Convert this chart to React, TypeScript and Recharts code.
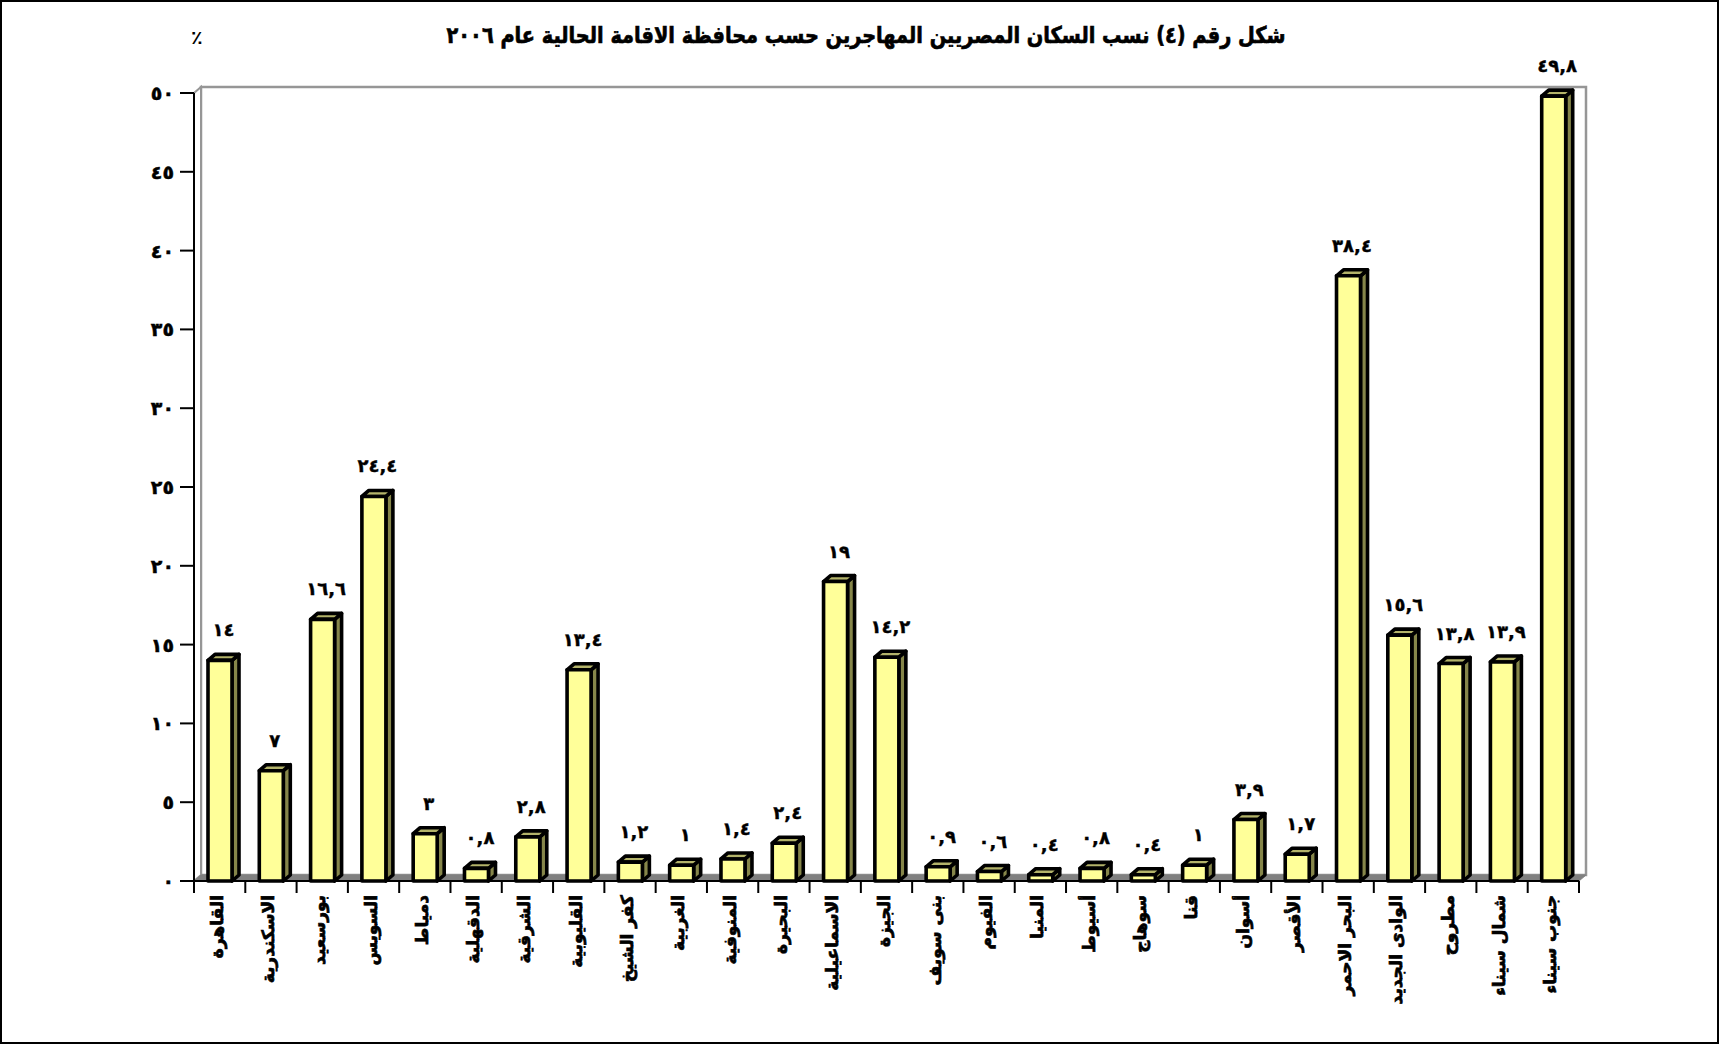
import React from 'react';
import { BarChart, Bar, XAxis, YAxis, LabelList, ReferenceArea } from 'recharts';

const categories = [
  'القاهرة',
  'الاسكندرية',
  'بورسعيد',
  'السويس',
  'دمياط',
  'الدقهلية',
  'الشرقية',
  'القليوبية',
  'كفر الشيخ',
  'الغربية',
  'المنوفية',
  'البحيرة',
  'الاسماعيلية',
  'الجيزة',
  'بنى سويف',
  'الفيوم',
  'المنيا',
  'أسيوط',
  'سوهاج',
  'قنا',
  'أسوان',
  'الأقصر',
  'البحر الاحمر',
  'الوادى الجديد',
  'مطروح',
  'شمال سيناء',
  'جنوب سيناء',
];

const values = [
  14, 7, 16.6, 24.4, 3, 0.8, 2.8, 13.4, 1.2, 1, 1.4, 2.4, 19, 14.2, 0.9, 0.6,
  0.4, 0.8, 0.4, 1, 3.9, 1.7, 38.4, 15.6, 13.8, 13.9, 49.8,
];

const yTicks = [0, 5, 10, 15, 20, 25, 30, 35, 40, 45, 50];

const titleText =
  'شكل رقم (٤) نسب السكان المصريين المهاجرين حسب محافظة الاقامة الحالية عام ٢٠٠٦';
const unitText = '٪';

const data = categories.map((name, i) => ({ name, value: values[i] }));

const AR_DIGITS = '٠١٢٣٤٥٦٧٨٩';
const toArabic = (n: number) =>
  String(n)
    .replace(/[0-9]/g, (d) => AR_DIGITS[Number(d)])
    .replace('.', ',');

const FONT = '"DejaVu Sans", sans-serif';
const DX = 7;
const DY = 6;

const Bar3D = (props: any) => {
  const { x, y, width, height } = props;
  if (x == null || y == null || width == null || height == null) return null;
  const x0 = x;
  const x1 = x + width;
  const y0 = y;
  const y1 = y + height;
  return (
    <g stroke="#000" strokeWidth={3.6} strokeLinejoin="round">
      <polygon
        points={`${x1},${y0} ${x1 + DX},${y0 - DY} ${x1 + DX},${y1 - DY} ${x1},${y1}`}
        fill="#86864a"
      />
      <polygon
        points={`${x0},${y0} ${x0 + DX},${y0 - DY} ${x1 + DX},${y0 - DY} ${x1},${y0}`}
        fill="#b3b36a"
      />
      <rect x={x0} y={y0} width={width} height={height} fill="#FFFF99" />
    </g>
  );
};

const Walls = (props: any) => {
  const { x, y, width, height } = props;
  if (x == null) return null;
  const r = x + width;
  const b = y + height;
  return (
    <g>
      <polygon
        points={`${x + DX},${y - DY} ${r + DX},${y - DY} ${r + DX},${b - DY} ${x + DX},${b - DY}`}
        fill="#fff"
        stroke="#969696"
        strokeWidth={2.5}
      />
      <polygon
        points={`${x},${y} ${x + DX},${y - DY} ${x + DX},${b - DY} ${x},${b}`}
        fill="#fff"
        stroke="#969696"
        strokeWidth={2}
      />
      <polygon
        points={`${x},${b} ${x + DX},${b - DY} ${r + DX},${b - DY} ${r},${b}`}
        fill="#808080"
        stroke="#808080"
        strokeWidth={1}
      />
    </g>
  );
};

const ValueLabel = (props: any) => {
  const { x, y, width, value } = props;
  if (x == null || y == null) return null;
  return (
    <text
      x={Number(x) + Number(width) / 2 + DX / 2}
      y={Number(y) - 24}
      textAnchor="middle"
      fontFamily={FONT}
      fontWeight="bold"
      fontSize={18}
      letterSpacing={2}
      stroke="#000"
      strokeWidth={0.4}
      fill="#000"
    >
      {toArabic(Number(value))}
    </text>
  );
};

const XTick = (props: any) => {
  const { x, y, payload, index } = props;
  const half = payload && payload.offset ? payload.offset : 25.6;
  return (
    <g>
      <line x1={x - half} y1={y} x2={x - half} y2={y + 12} stroke="#000" strokeWidth={2} />
      {index === categories.length - 1 && (
        <line x1={x + half} y1={y} x2={x + half} y2={y + 12} stroke="#000" strokeWidth={2} />
      )}
      <text
        transform={`translate(${x + 3},${y + 14}) rotate(-90)`}
        textAnchor="end"
        fontFamily={FONT}
        fontWeight="bold"
        fontSize={17}
        stroke="#000"
        strokeWidth={0.7}
        fill="#000"
      >
        {payload.value}
      </text>
    </g>
  );
};

const YTick = (props: any) => {
  const { x, y, payload } = props;
  return (
    <text
      x={x}
      y={y}
      dy={7}
      textAnchor="end"
      fontFamily={FONT}
      fontWeight="bold"
      fontSize={19}
      letterSpacing={4}
      stroke="#000"
      strokeWidth={0.5}
      fill="#000"
    >
      {toArabic(payload.value)}
    </text>
  );
};

export default function App() {
  return (
    <div style={{ position: 'absolute', left: 0, top: 0, width: 1719, height: 1044, background: '#fff' }}>
      <div style={{ position: 'absolute', left: 0, top: 0 }}>
        <BarChart
          width={1719}
          height={1044}
          data={data}
          margin={{ top: 93, right: 140, bottom: 0, left: 0 }}
          barSize={24}
        >
          <ReferenceArea y1={0} y2={50} shape={<Walls />} ifOverflow="visible" />
          <XAxis
            dataKey="name"
            height={163}
            interval={0}
            tickLine={false}
            tickSize={0}
            tickMargin={0}
            axisLine={{ stroke: '#000', strokeWidth: 2 }}
            tick={<XTick />}
          />
          <YAxis
            width={194}
            domain={[0, 50]}
            ticks={yTicks}
            interval={0}
            tickSize={14}
            tickMargin={6}
            axisLine={{ stroke: '#000', strokeWidth: 2 }}
            tickLine={{ stroke: '#000', strokeWidth: 2 }}
            tick={<YTick />}
          />
          <Bar dataKey="value" isAnimationActive={false} shape={<Bar3D />}>
            <LabelList dataKey="value" content={<ValueLabel />} />
          </Bar>
        </BarChart>
      </div>
      <div
        style={{
          position: 'absolute',
          left: 866,
          top: 22,
          transform: 'translateX(-50%) scaleX(0.84)',
          whiteSpace: 'nowrap',
          direction: 'rtl',
          fontFamily: FONT,
          fontWeight: 'bold',
          fontSize: 23,
          WebkitTextStroke: '0.7px #000',
          color: '#000',
        }}
      >
        {titleText}
      </div>
      <div
        style={{
          position: 'absolute',
          left: 191,
          top: 26,
          fontFamily: FONT,
          fontWeight: 'bold',
          fontSize: 19,
          color: '#000',
        }}
      >
        {unitText}
      </div>
      <div
        style={{
          position: 'absolute',
          left: 0,
          top: 0,
          width: 1719,
          height: 1044,
          boxSizing: 'border-box',
          border: '2px solid #000',
          pointerEvents: 'none',
        }}
      />
    </div>
  );
}
